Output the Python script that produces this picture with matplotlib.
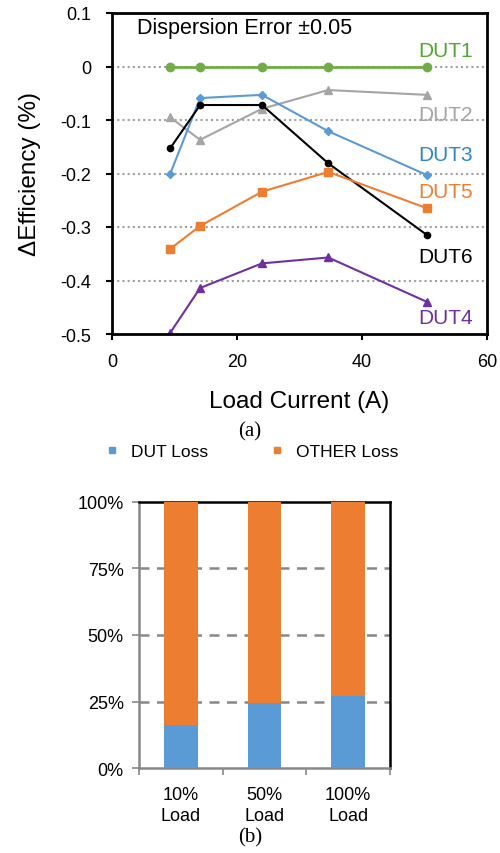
import matplotlib.pyplot as plt
from matplotlib.lines import Line2D

plt.rcParams['font.family'] = ['Liberation Sans', 'DejaVu Sans']

# (a) efficiency difference vs load current
current = [9.3, 14.1, 24.0, 34.6, 50.4]
dut1 = [0, 0, 0, 0, 0]
dut2 = [-0.095, -0.137, -0.079, -0.044, -0.053]
dut3 = [-0.201, -0.059, -0.053, -0.121, -0.203]
dut4 = [-0.498, -0.414, -0.368, -0.357, -0.440]
dut5 = [-0.341, -0.298, -0.234, -0.197, -0.265]
dut6 = [-0.153, -0.072, -0.072, -0.181, -0.315]

# (b) loss breakdown
loads = ['10%\nLoad', '50%\nLoad', '100%\nLoad']
dut_loss = [16.4, 24.5, 27.2]
other_loss = [100 - v for v in dut_loss]

green = '#70AD47'
gray = '#A5A5A5'
blue = '#5B9BD5'
orange = '#ED7D31'
purple = '#7030A0'

fig = plt.figure(figsize=(5, 8.54), dpi=100)

# ---- top chart ----
ax = fig.add_axes([112/500, 1 - 335/854, 375/500, 321/854])
ax.plot(current, dut1, color=green, marker='o', ms=6, lw=2)
ax.plot(current, dut2, color=gray, marker='^', ms=6, lw=1.5)
ax.plot(current, dut3, color=blue, marker='D', ms=4.5, lw=1.5)
ax.plot(current, dut6, color='black', marker='o', ms=4.5, lw=1.5)
ax.plot(current, dut5, color=orange, marker='s', ms=6, lw=1.5)
ax.plot(current, dut4, color=purple, marker='^', ms=6, lw=1.5)

ax.set_xlim(0, 60)
ax.set_ylim(-0.5, 0.1)
ax.set_xticks([0, 20, 40, 60])
ax.set_yticks([0.1, 0, -0.1, -0.2, -0.3, -0.4, -0.5])
ax.set_yticklabels(['0.1', '0', '-0.1', '-0.2', '-0.3', '-0.4', '-0.5'])
for y in [0, -0.1, -0.2, -0.3, -0.4]:
    ax.axhline(y, color='#A0A0A0', ls=(0, (1, 1.5)), lw=1.5, zorder=0)
for s in ax.spines.values():
    s.set_linewidth(2)
ax.tick_params(labelsize=13, width=1.5, length=4, direction='out')
ax.tick_params(axis='y', pad=11)
ax.tick_params(axis='x', pad=10)
ax.set_xlabel('Load Current (A)', fontsize=17.5, labelpad=14)
ax.set_ylabel('ΔEfficiency (%)', fontsize=17.5, labelpad=14)

ax.text(4, 0.072, 'Dispersion Error ±0.05', fontsize=15.5, va='center')
lab = [('DUT1', 0.030, '#4EA72E'), ('DUT2', -0.090, gray),
       ('DUT3', -0.164, '#2E86C8'), ('DUT5', -0.234, orange),
       ('DUT6', -0.356, 'black'), ('DUT4', -0.470, purple)]
for t, y, c in lab:
    ax.text(57.8, y, t, color=c, fontsize=15, ha='right', va='center')

fig.text(0.5, 1 - 432/854, '(a)', family='Liberation Serif', fontsize=15,
         ha='center', va='center')

# ---- bottom chart ----
bx = fig.add_axes([139/500, 1 - 769.3/854, 251/500, 266.6/854])
x = range(len(loads))
bx.bar(x, dut_loss, width=0.4, color=blue, zorder=3, label='DUT Loss')
bx.bar(x, other_loss, width=0.4, bottom=dut_loss, color=orange, zorder=3,
       label='OTHER Loss')
bx.set_xlim(-0.5, 2.5)
bx.set_ylim(0, 100)
bx.set_yticks([0, 25, 50, 75, 100])
bx.set_yticklabels(['0%', '25%', '50%', '75%', '100%'])
bx.set_xticks(list(x))
bx.set_xticklabels(loads, fontsize=13, linespacing=1.3)
bx.set_xticks([-0.5, 0.5, 1.5, 2.5], minor=True)
bx.tick_params(axis='x', which='major', length=0, pad=13)
bx.tick_params(axis='x', which='minor', length=5, color='#888888', width=1.2)
bx.tick_params(axis='y', labelsize=13, length=5, color='#888888', width=1.2,
               pad=6)
for y in [25, 50, 75]:
    bx.axhline(y, color='#888888', ls=(0, (4, 3)), lw=1.8, zorder=1)
bx.spines['left'].set_color('#888888')
bx.spines['bottom'].set_color('#888888')
for s in bx.spines.values():
    s.set_linewidth(1.8)

handles = [Line2D([], [], ls='', marker='s', ms=5, color=blue),
           Line2D([], [], ls='', marker='s', ms=5, color=orange)]
fig.legend(handles, ['DUT Loss', 'OTHER Loss'], loc='center',
           bbox_to_anchor=(0.505, 1 - 452/854), ncol=2, frameon=False,
           fontsize=12.5, handlelength=0.6, handletextpad=0.8,
           columnspacing=3.7)

fig.text(0.5, 1 - 838/854, '(b)', family='Liberation Serif', fontsize=15,
         ha='center', va='center')

fig.savefig('out.png', dpi=100)
